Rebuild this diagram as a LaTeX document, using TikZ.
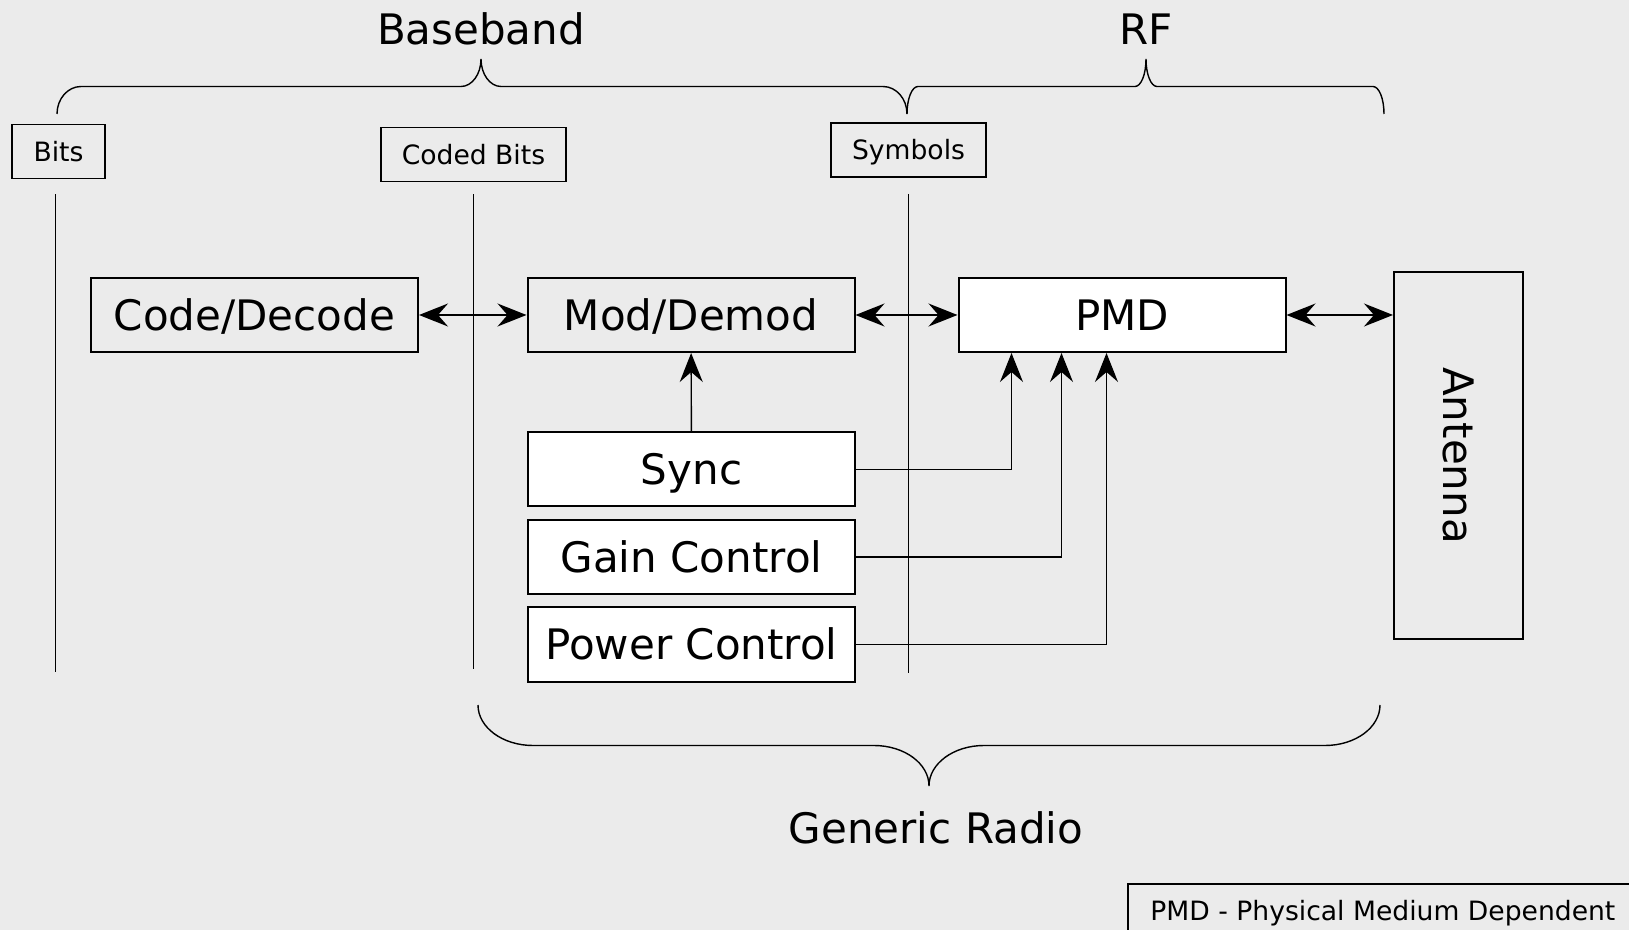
\documentclass[tikz,border=0pt]{standalone}
\usepackage{fontspec}
\setmainfont{DejaVu Sans}
\usepackage{xcolor}
\usepackage{tikz}
\usetikzlibrary{arrows.meta}
\definecolor{paper}{HTML}{EBEBEB}
\definecolor{ink}{HTML}{000000}
\tikzset{
  blk/.style={draw=ink, fill=paper, line width=1pt, minimum width=163.5pt, minimum height=37pt,
    inner sep=0pt, text height=15.3pt, text depth=0pt, font=\fontsize{21}{25}\selectfont},
  wblk/.style={blk, fill=white},
  tag/.style={draw=ink, fill=paper, line width=0.9pt, minimum height=27pt, inner sep=0pt,
    text height=9.7pt, text depth=0pt, font=\fontsize{13.3}{16}\selectfont},
  title/.style={font=\fontsize{21}{25}\selectfont, text=ink},
  divider/.style={draw=ink, line width=0.7pt},
  brace/.style={draw=ink, line width=0.7pt},
  link/.style={draw=ink, line width=0.7pt, {Stealth[length=14.5pt,width=11.5pt,inset=5pt]}-{Stealth[length=14.5pt,width=11.5pt,inset=5pt]}},
  feed/.style={draw=ink, line width=0.7pt, -{Stealth[length=14.5pt,width=11.5pt,inset=5pt]}}
}

\begin{document}
\begin{tikzpicture}[x=0.5pt, y=-0.5pt]
  \fill[paper] (0,0) rectangle (1629,930);
  \useasboundingbox (0,0) rectangle (1629,930);

  % signal stage tags and dividers
  \node[tag, minimum width=46.5pt] (bits) at (58.5,151.5) {Bits};
  \node[tag, minimum width=92.5pt] (coded) at (473.5,154.5) {Coded Bits};
  \node[tag, minimum width=77.5pt] (sym) at (908.5,150) {Symbols};
  \draw[divider] ([xshift=-1.5pt,yshift=-7.5pt]bits.south) -- ++(0,478);
  \draw[divider] ([yshift=-6pt]coded.south) -- ++(0,475);
  \draw[divider] ([yshift=-8pt]sym.south) -- ++(0,479);

  % braces
  \draw[brace] (57,114) .. controls (57,98.8) and (67.8,86.5) .. (81,86.5) -- (461,86.5)
    .. controls (472,86.5) and (481,74.2) .. (481,59) .. controls (481,74.2) and (490,86.5) .. (501,86.5)
    -- (883,86.5) .. controls (896.2,86.5) and (907,98.8) .. (907,114);
  \draw[brace] (907,114) .. controls (907,98.8) and (911.9,86.5) .. (918,86.5) -- (1135,86.5)
    .. controls (1141.1,86.5) and (1146,74.2) .. (1146,59) .. controls (1146,74.2) and (1150.9,86.5) .. (1157,86.5)
    -- (1373,86.5) .. controls (1379.1,86.5) and (1384,98.8) .. (1384,114);
  \draw[brace] (478,705) .. controls (478,727.4) and (502.6,745.5) .. (533,745.5) -- (874,745.5)
    .. controls (904.4,745.5) and (929,763.6) .. (929,786) .. controls (929,763.6) and (953.6,745.5) .. (984,745.5)
    -- (1325,745.5) .. controls (1355.4,745.5) and (1380,727.4) .. (1380,705);
  \node[title] (bb) at (481,29) {Baseband};
  \node[title] (rf) at (1146,29) {RF};
  \node[title] (gr) at (936,828) {Generic Radio};

  % blocks
  \node[blk] (code) at (254.5,315) {Code/Decode};
  \node[blk] (mod) at (691,315) {Mod/Demod};
  \node[wblk] (pmd) at (1122,315) {PMD};
  \node[blk, minimum width=64.5pt, minimum height=183.5pt, text height=, text depth=] (ant) at (1458.5,455.5) {\rotatebox{-90}{Antenna}};
  \node[wblk] (sync) at (691.5,469.5) {Sync};
  \node[wblk] (gain) at (691.5,557) {Gain Control};
  \node[wblk] (power) at (691.5,644.5) {Power Control};

  \draw[link] (code) -- (mod);
  \draw[link] (mod) -- (pmd);
  \draw[link] (pmd.east) -- (pmd.east -| ant.west);
  \draw[feed] (sync) -- (mod);
  \draw[feed] (sync.east) -| ([xshift=27pt]pmd.south west);
  \draw[feed] (gain.east) -| ([xshift=52pt]pmd.south west);
  \draw[feed] (power.east) -| ([xshift=74.5pt]pmd.south west);

  % legend
  \node[tag, anchor=west, minimum height=27pt, minimum width=255pt, inner xsep=10.5pt, align=left]
    (legend) at (1127,911) {PMD - Physical Medium Dependent};
\end{tikzpicture}
\end{document}
